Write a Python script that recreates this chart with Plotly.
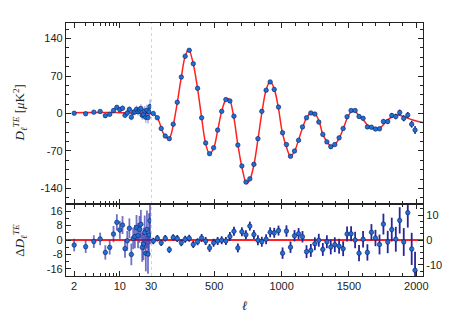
import math
import plotly.graph_objects as go

# ---------------- data ----------------
ell_low = [2, 3, 4, 5, 6, 7, 8, 9, 10, 11, 12, 13, 14, 15, 16, 17, 18, 19, 20,
           21, 22, 23, 24, 25, 26, 27, 28, 29]
dl_low = [0.5, -0.5, 2.5, 3.8, -4, -1.5, 5.5, 11.5, 7.2, 9.8,
          -3.3, 1, 7.8, -6.8, 2, 3, 7.8, 3.2, 6.6, 9.3,
          -3.5, -1.8, 4.4, -7.2, 6, -7.6, 2.9, 13]
res_low = [-2.8, -3.7, -0.9, 0.6, -6.9, -4.1, 3.3, 9.8, 5.6, 8.3,
           -4.8, -0.4, 6.5, -8, 0.9, 1.9, 6.9, 2.4, 5.9, 8.7,
           -4.1, -2.2, 4.1, -7.4, 5.9, -7.8, 2.8, 10.7]
err_low = [3.5, 3.5, 3.5, 3.5, 4, 4, 4.5, 4.5, 5, 5,
           5, 5.5, 5.5, 6, 6, 6.5, 7, 7, 7.5, 8,
           8, 9, 9.5, 10, 10.5, 11, 12, 13]

ell_high = [47, 77, 106, 136, 166, 195, 225, 255, 284, 314,
            344, 376, 406, 436, 465, 495, 525, 555, 586, 616,
            646, 675, 705, 735, 764, 794, 824, 853, 885, 915,
            945, 977, 1007, 1036, 1066, 1096, 1126, 1155, 1185, 1217,
            1247, 1276, 1306, 1336, 1365, 1395, 1427, 1457, 1486, 1516,
            1546, 1575, 1605, 1637, 1667, 1697, 1727, 1756, 1788, 1818,
            1848, 1877, 1907, 1937, 1966, 1991]
dl_high = [0, -8, -28, -42, -47, -20, 21, 68, 107, 118,
           93, 47, -8, -55, -75, -64, -31, 4, 26, 23.5,
           -5, -59, -98, -128, -122, -95, -47, 4, 43.5, 59,
           45, 12, -36, -58, -80, -70, -50, -25, -8, 1,
           -1, -16, -39, -53, -62, -58, -45.5, -28, -6, 5.6,
           5.6, -5.6, -9, -25, -25.6, -29, -28.7, -15, -15, -3.7,
           -5.6, 1.9, -9, -3, -20, -31]
res_high = [-0.4, 0.7, -1.1, 0.7, -3.9, 1.0, 0.6, -1.1, 0.3, 0.7,
            -1.8, -0.7, 0.8, -0.4, -3.2, -1.1, -0.4, -0.1, -0.4, 1.4,
            3.5, -3.2, 3.3, 2.1, 5.6, 2.2, -0.1, -0.7, 0.3, 3.1,
            2.9, 3.8, -5.3, 3.6, -2.9, 1.7, 2.5, 1.3, -4.7, -4.2,
            -1.5, -0.1, -3.8, -0.7, -2.8, -1.9, -2.5, -3.5, 2.4, 2.5,
            0, -5.3, 0.3, -5.0, 3.1, 0.8, -1.8, 6.4, -0.8, 4.2,
            0.3, 7.9, -0.8, 11.0, -3.6, -12.2]
err_high = [1.3, 1.3, 1.3, 1.3, 1.3, 1.3, 1.4, 1.4, 1.4, 1.4,
            1.4, 1.4, 1.6, 1.6, 1.6, 1.6, 1.6, 1.6, 1.6, 1.8,
            1.8, 1.8, 1.8, 1.8, 1.8, 1.8, 2.0, 2.0, 2.0, 2.0,
            2.0, 2.0, 2.3, 2.3, 2.3, 2.3, 2.3, 2.3, 2.6, 2.6,
            2.6, 2.6, 2.6, 2.6, 3.0, 3.0, 3.0, 3.0, 3.0, 3.0,
            3.3, 3.3, 3.3, 3.3, 3.3, 3.3, 4.0, 4.2, 4.5, 4.8,
            5.0, 5.3, 5.6, 6.0, 6.5, 7.5]

model_ell_low = [2, 3, 4, 6, 8, 10, 15, 20, 25, 30]
model_low = [1.5, 1.8, 2, 2, 1.8, 1.5, 1, 0.5, 0, -0.5]

model_ell_high = [30, 45, 60, 80, 100, 120, 150, 170, 195, 225,
                  255, 285, 310, 340, 375, 405, 435, 465, 495, 525,
                  555, 585, 610, 640, 675, 705, 740, 765, 795, 825,
                  855, 885, 915, 945, 975, 1005, 1035, 1065, 1095, 1125,
                  1155, 1185, 1220, 1250, 1280, 1305, 1340, 1370, 1400, 1430,
                  1460, 1490, 1520, 1545, 1575, 1610, 1640, 1680, 1710, 1740,
                  1780, 1820, 1860, 1900, 1950, 2000, 2050]
model_high = [-0.5, -1, -3, -9, -22, -36, -46, -44, -22, 20,
              68, 108, 119, 97, 48, -6, -55, -76, -65, -32,
              4, 25, 27, 0, -58, -100, -131, -123, -95, -47,
              4, 44, 60, 46, 12, -35, -62, -79, -71, -50,
              -27, -8, 1.5, -1, -16, -38, -54, -62, -57, -45,
              -27, -7, 4, 4, -4, -13, -22, -28, -29, -25,
              -14, -6, -3, -5, -10, -14, -17]

xticks_low = [2, 10, 30]
xminor_low = [3, 4, 5, 6, 7, 8, 9, 20]
xticks_high = [500, 1000, 1500, 2000]
yticks_top = [-140, -70, 0, 70, 140]
yticks_res_left = [-16, -8, 0, 8, 16]
yticks_res_right = [-10, 0, 10]

# ---------------- style ----------------
FONT = "Liberation Sans, Arial, Helvetica, sans-serif"
SERIF = "Liberation Serif, DejaVu Serif, serif"
AX = "#222222"
RED = "#ff2020"
DOT = "#1f6fd6"
DOT_EDGE = "#0b1f5c"
f = (151 - 66) / 357.0
ysplit = 72 / 253.0

def lab(v):
    return str(v) if v >= 0 else "-" + str(-v)

fig = go.Figure()

marker = dict(color=DOT, size=4.5, line=dict(color=DOT_EDGE, width=0.6))

# upper panel
fig.add_trace(go.Scatter(x=model_ell_low, y=model_low, xaxis="x3", yaxis="y",
                         mode="lines", line=dict(color=RED, width=1.5, shape="spline"),
                         hoverinfo="skip"))
fig.add_trace(go.Scatter(x=ell_low, y=dl_low, xaxis="x3", yaxis="y", mode="markers",
                         marker=marker,
                         error_y=dict(type="data", array=err_low, color="rgba(60,60,180,0.4)",
                                      thickness=1.5, width=0)))
fig.add_trace(go.Scatter(x=model_ell_high, y=model_high, xaxis="x4", yaxis="y2",
                         mode="lines", line=dict(color=RED, width=1.5, shape="spline"),
                         hoverinfo="skip"))
fig.add_trace(go.Scatter(x=ell_high, y=dl_high, xaxis="x4", yaxis="y2", mode="markers",
                         marker=marker,
                         error_y=dict(type="data", array=err_high, color="#2a2a9c",
                                      thickness=1.5, width=0)))
# lower panel
fig.add_trace(go.Scatter(x=ell_low, y=res_low, xaxis="x", yaxis="y3", mode="markers",
                         marker=marker,
                         error_y=dict(type="data", array=err_low, color="rgba(45,45,170,0.68)",
                                      thickness=1.8, width=0)))
fig.add_trace(go.Scatter(x=ell_high, y=res_high, xaxis="x2", yaxis="y4", mode="markers",
                         marker=marker,
                         error_y=dict(type="data", array=err_high, color="#26269a",
                                      thickness=1.8, width=0)))

common = dict(showline=True, linecolor=AX, linewidth=1.3, ticks="inside", ticklen=5,
              tickwidth=1, tickcolor=AX, zeroline=False, showgrid=False, automargin=False,
              tickfont=dict(family=FONT, size=11, color=AX))

xlog = dict(common, type="log", domain=[0, f], range=[math.log10(1.5), math.log10(30)],
            mirror="ticks", tickmode="array", tickvals=xticks_low,
            ticktext=[str(v) for v in xticks_low],
            minor=dict(tickmode="array", tickvals=xminor_low, ticks="inside", ticklen=3,
                       tickcolor=AX, tickwidth=1))
xlin = dict(common, domain=[f, 1], range=[30, 2050], mirror="ticks", tickmode="array",
            tickvals=xticks_high, ticktext=[str(v) for v in xticks_high],
            minor=dict(dtick=100, tick0=0, ticks="inside", ticklen=3, tickcolor=AX, tickwidth=1))

fig.update_layout(
    width=463, height=322,
    margin=dict(l=58, r=48, t=15, b=54),
    paper_bgcolor="white", plot_bgcolor="white",
    showlegend=False,
    xaxis=dict(xlog, anchor="y3"),
    xaxis2=dict(xlin, anchor="y4"),
    xaxis3=dict(xlog, anchor="y", showticklabels=False),
    xaxis4=dict(xlin, anchor="y2", showticklabels=False),
    yaxis=dict(common, domain=[ysplit, 1], range=[-169, 169], anchor="x3", side="left",
               tickmode="array", tickvals=yticks_top, ticktext=[lab(v) for v in yticks_top],
               minor=dict(dtick=17.5, tick0=0, ticks="inside", ticklen=3, tickcolor=AX)),
    yaxis2=dict(common, domain=[ysplit, 1], range=[-169, 169], anchor="x4", side="right",
                tickmode="array", tickvals=yticks_top, showticklabels=False,
                minor=dict(dtick=17.5, tick0=0, ticks="inside", ticklen=3, tickcolor=AX)),
    yaxis3=dict(common, domain=[0, ysplit], range=[-20, 20], anchor="x", side="left",
                tickmode="array", tickvals=yticks_res_left,
                ticktext=[lab(v) for v in yticks_res_left],
                minor=dict(dtick=4, tick0=0, ticks="inside", ticklen=3, tickcolor=AX)),
    yaxis4=dict(common, domain=[0, ysplit], range=[-14.5, 14.5], anchor="x2", side="right",
                tickmode="array", tickvals=yticks_res_right,
                ticktext=[lab(v) for v in yticks_res_right],
                minor=dict(dtick=2.5, tick0=0, ticks="inside", ticklen=3, tickcolor=AX)),
    shapes=[
        dict(type="line", xref="x2", yref="paper", x0=30, x1=30, y0=0, y1=1,
             line=dict(color="#aaaaaa", width=1, dash="dot"), layer="below"),
        dict(type="line", xref="paper", yref="y3", x0=0, x1=1, y0=0, y1=0,
             line=dict(color=RED, width=2), layer="below"),
    ],
    annotations=[
        dict(text="<i>D</i><sub><i>ℓ</i></sub><sup><i>TE</i></sup> [<i>μ</i>K<sup>2</sup>]",
             xref="paper", yref="paper", x=-0.13, y=0.645, textangle=-90,
             showarrow=False, xanchor="center", yanchor="middle",
             font=dict(family=SERIF, size=13, color=AX)),
        dict(text="Δ<i>D</i><sub><i>ℓ</i></sub><sup><i>TE</i></sup>",
             xref="paper", yref="paper", x=-0.13, y=0.142, textangle=-90,
             showarrow=False, xanchor="center", yanchor="middle",
             font=dict(family=SERIF, size=13, color=AX)),
        dict(text="<i>ℓ</i>", xref="paper", yref="paper", x=0.5, y=-0.115,
             showarrow=False, xanchor="center", yanchor="middle",
             font=dict(family=SERIF, size=13, color=AX)),
    ],
)

fig.write_html("out.html")
